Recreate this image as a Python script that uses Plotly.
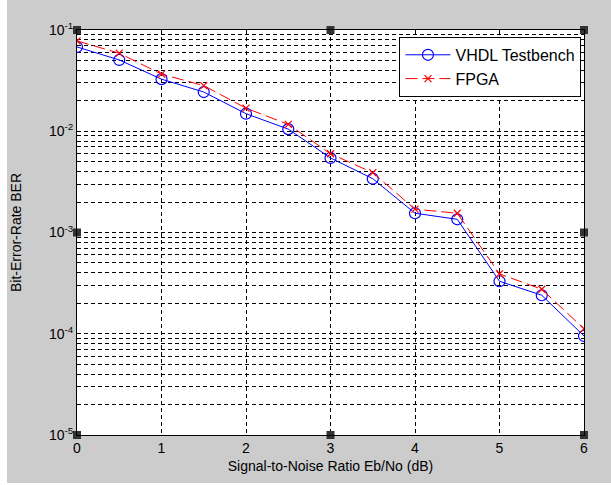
import plotly.graph_objects as go

snr_db = [0, 0.5, 1, 1.5, 2, 2.5, 3, 3.5, 4, 4.5, 5, 5.5, 6]
ber_vhdl = [0.068, 0.0506, 0.0327, 0.0244, 0.0149, 0.0105, 0.00545, 0.0034,
            0.00155, 0.00135, 0.00033, 0.00024, 0.000095]
ber_fpga = [0.078, 0.059, 0.0367, 0.0282, 0.0169, 0.0117, 0.0060, 0.0039,
            0.0017, 0.00155, 0.00039, 0.000275, 0.000112]

x_ticks = [0, 1, 2, 3, 4, 5, 6]
decades = [-5, -4, -3, -2, -1]
y_tickvals = []
y_ticktext = []
for d in decades:
    for m in range(1, 10):
        if d == -1 and m > 1:
            break
        y_tickvals.append(m * 10.0 ** d)
        y_ticktext.append(f"10<sup>{d}</sup>" if m == 1 else "")

square_x = [0, 3, 6, 0, 3, 6, 0, 0, 0, 6, 6, 6]
square_y = [0.0999, 0.0999, 0.0999, 1e-5, 1e-5, 1e-5, 0.0999, 1e-3, 1e-5, 0.0999, 1e-3, 1e-5]

fig = go.Figure()
fig.add_trace(go.Scatter(
    x=snr_db, y=ber_vhdl, mode="lines+markers", name="VHDL Testbench",
    line=dict(color="#0000ff", width=1),
    marker=dict(symbol="circle-open", size=11, color="#0000ff", line=dict(width=1.2)),
))
fig.add_trace(go.Scatter(
    x=snr_db, y=ber_fpga, mode="lines+markers", name="FPGA",
    line=dict(color="#ff0000", width=1, dash="12px,5px"),
    marker=dict(symbol="x-thin-open", size=7, color="#ff0000", line=dict(width=1.2, color="#ff0000")),
))
fig.add_trace(go.Scatter(
    x=square_x, y=square_y, mode="markers", showlegend=False, hoverinfo="skip",
    marker=dict(symbol="square", size=8, color="#333333"), cliponaxis=False,
))

# white strips at the left, top and bottom edges of the grey window
fig.add_shape(type="rect", xref="paper", yref="paper", layer="below",
              x0=-77/507, x1=-70/507, y0=-50/405, y1=455/405,
              fillcolor="white", line=dict(width=0))
fig.add_shape(type="rect", xref="paper", yref="paper", layer="below",
              x0=-77/507, x1=534/507, y0=448/405, y1=455/405,
              fillcolor="white", line=dict(width=0))
fig.add_shape(type="rect", xref="paper", yref="paper", layer="below",
              x0=-77/507, x1=534/507, y0=-50/405, y1=-48/405,
              fillcolor="white", line=dict(width=0))

fig.update_layout(
    width=611, height=485,
    margin=dict(l=77, r=27, t=30, b=50),
    paper_bgcolor="#cccccc", plot_bgcolor="white",
    font=dict(family="Liberation Sans, Arial, sans-serif", size=14, color="#000000"),
    showlegend=True,
    legend=dict(x=0.995, y=0.983, xanchor="right", yanchor="top",
                bgcolor="white", bordercolor="black", borderwidth=1,
                font=dict(size=16), itemwidth=45, tracegroupgap=0),
)
fig.update_xaxes(
    range=[0, 6], tickvals=x_ticks, ticktext=[str(v) for v in x_ticks],
    showgrid=True, gridcolor="#000000", griddash="4px,3px", gridwidth=1,
    showline=True, linecolor="#000000", linewidth=1, mirror=True,
    ticks="", zeroline=False,
    title=dict(text="Signal-to-Noise Ratio Eb/No (dB)", standoff=6, font=dict(size=14)),
)
fig.update_yaxes(
    type="log", range=[-5, -1], tickvals=y_tickvals, ticktext=y_ticktext,
    showgrid=True, gridcolor="#000000", griddash="4px,3px", gridwidth=1,
    showline=True, linecolor="#000000", linewidth=1, mirror=True,
    ticks="", zeroline=False,
    title=dict(text="Bit-Error-Rate BER", standoff=24, font=dict(size=14)),
)

fig.write_html("out.html")
